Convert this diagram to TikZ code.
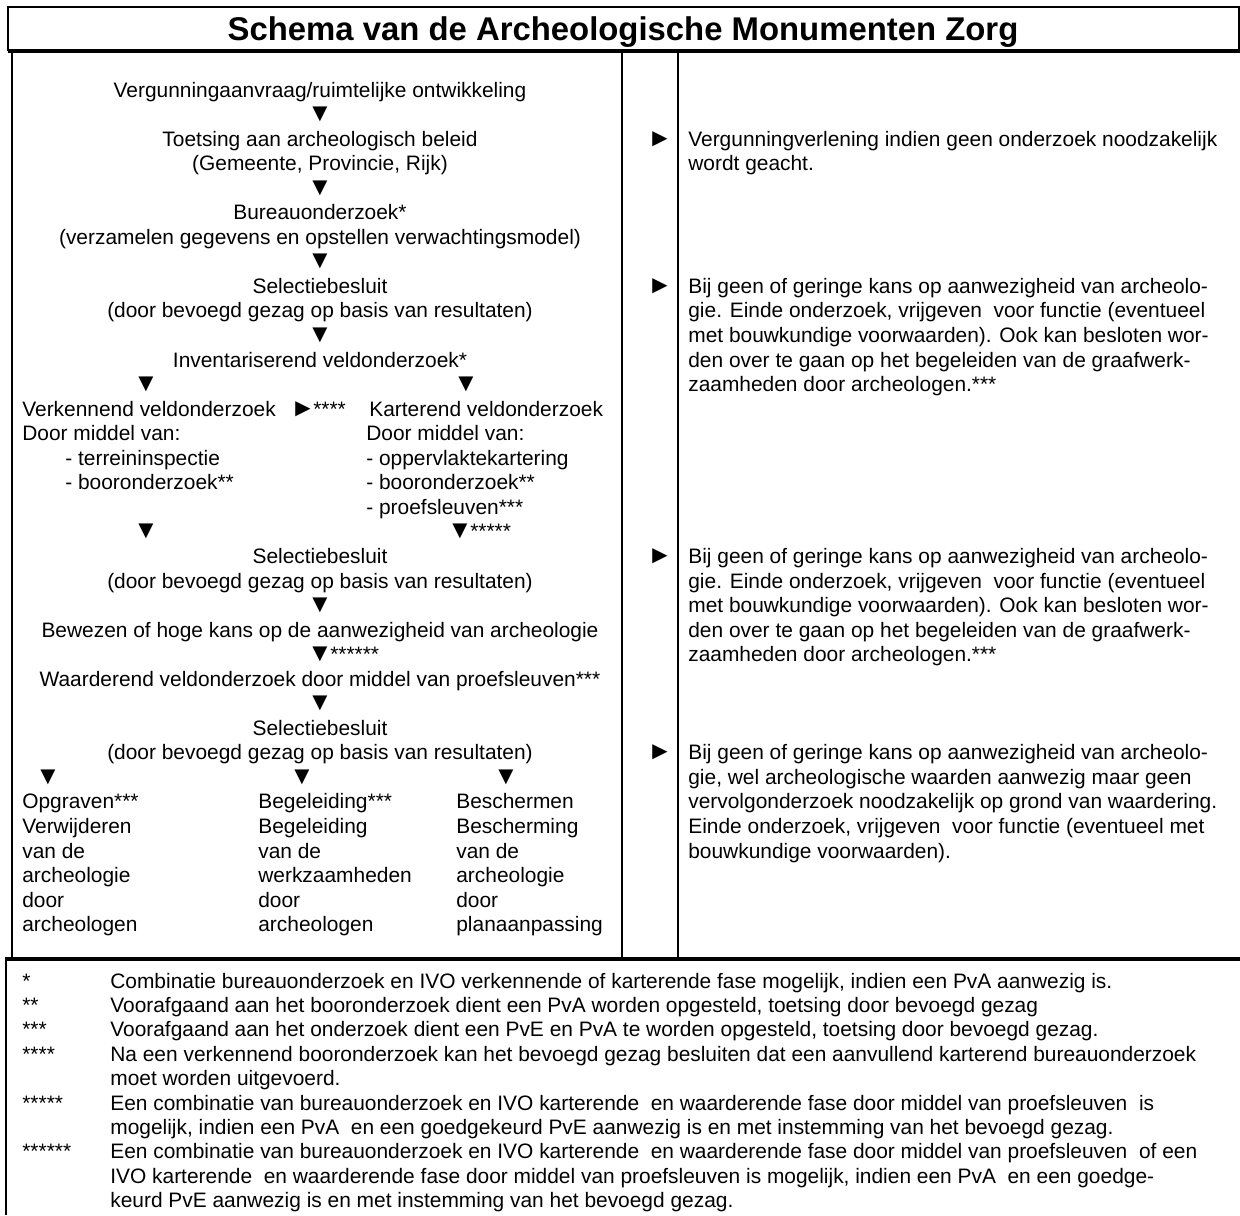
\documentclass[tikz,border=0pt]{standalone}
\usepackage{fontspec}
\setmainfont{Liberation Sans}
\tikzset{
 txt/.style={font=\fontsize{11.9}{14}\selectfont,inner sep=0pt},
 mid/.style={txt,anchor=base},
 lft/.style={txt,anchor=base west},
 pijl/.style={font=\fontsize{14.5}{16}\selectfont,inner sep=0pt,anchor=base},
 ster/.style={lft,xshift=-0.6mm},
 kop/.style={font=\fontsize{18.7}{21}\selectfont\bfseries,inner sep=0pt,anchor=base},
 rule/.style={line width=1.1pt},
 heavy/.style={line width=2.2pt}
}
\newcommand{\ry}[1]{97+24.55*#1}
\newcommand{\fy}[1]{988+24.4*#1}

\begin{document}
\begin{tikzpicture}[x=0.2mm,y=-0.2mm]
\useasboundingbox (0,0) rectangle (1240,1215);
% frames
\draw[rule] (8,51) |- (1239,7) -- (1239,51);
\draw[heavy] (8,51) -- (1240,51);
\foreach \x in {12,622,678} \draw[rule] (\x,51) -- (\x,959);
\draw[heavy] (5,959) -- (1240,959);
\draw[rule] (6,959) -- (6,1215);
\node[kop] (titel) at (623,40) {Schema van de Archeologische Monumenten Zorg};
% left column, centred lines
\node[mid] (m0) at (320,{\ry{0}}) {Vergunningaanvraag/ruimtelijke ontwikkeling};
\foreach \n/\txt in {2/Toetsing aan archeologisch beleid,3/{(Gemeente, Provincie, Rijk)},5/Bureauonderzoek*,6/(verzamelen gegevens en opstellen verwachtingsmodel),8/Selectiebesluit,9/(door bevoegd gezag op basis van resultaten),11/Inventariserend veldonderzoek*,19/Selectiebesluit,20/(door bevoegd gezag op basis van resultaten),22/Bewezen of hoge kans op de aanwezigheid van archeologie,24/Waarderend veldonderzoek door middel van proefsleuven***,26/Selectiebesluit,27/(door bevoegd gezag op basis van resultaten)}
 \node[mid] (m\n) at (320,{\ry{\n}}) {\txt};
% triangles
\foreach \n/\x in {1/320,4/320,7/320,10/320,12/146,12/466,18/146,18/460,21/320,23/320,25/320,28/48,28/302,28/506}
 \node[pijl] (d\n-\x) at (\x,{\ry{\n}}) {▼};
\node[ster] (s18) at (d18-460.base east) {*****};
\node[ster] (s23) at (d23-320.base east) {******};
% split block
\foreach \n/\x/\txt in {13/22/Verkennend veldonderzoek,14/22/Door middel van:,15/65/- terreininspectie,16/65/- booronderzoek**,13/369/Karterend veldonderzoek,14/366/Door middel van:,15/366/- oppervlaktekartering,16/366/- booronderzoek**,17/366/- proefsleuven***}
 \node[lft] (v\n-\x) at (\x,{\ry{\n}}) {\txt};
\node[pijl,anchor=base west] (p13) at (290,{\ry{13}}) {►};
\node[ster] (s13) at (p13.base east) {****};
% three outcomes
\foreach \n/\a/\b/\c in {29/Opgraven***/Begeleiding***/Beschermen,30/Verwijderen/Begeleiding/Bescherming,31/van de/van de/van de,32/archeologie/werkzaamheden/archeologie,33/door/door/door,34/archeologen/archeologen/planaanpassing}{
 \node[lft] (o\n) at (22,{\ry{\n}}) {\a};
 \node[lft] (b\n) at (258,{\ry{\n}}) {\b};
 \node[lft] (c\n) at (456,{\ry{\n}}) {\c};
}
% right column
\foreach \n in {2,8,19,27} \node[pijl] (r\n) at (660,{\ry{\n}}) {►};
\foreach \n/\txt in {2/Vergunningverlening indien geen onderzoek noodzakelijk,3/wordt geacht.,
 8/Bij geen of geringe kans op aanwezigheid van archeolo-,9/{gie. Einde onderzoek, vrijgeven\ \ voor functie (eventueel},10/met bouwkundige voorwaarden). Ook kan besloten wor-,11/den over te gaan op het begeleiden van de graafwerk-,12/zaamheden door archeologen.***,
 19/Bij geen of geringe kans op aanwezigheid van archeolo-,20/{gie. Einde onderzoek, vrijgeven\ \ voor functie (eventueel},21/met bouwkundige voorwaarden). Ook kan besloten wor-,22/den over te gaan op het begeleiden van de graafwerk-,23/zaamheden door archeologen.***,
 27/Bij geen of geringe kans op aanwezigheid van archeolo-,28/{gie, wel archeologische waarden aanwezig maar geen},29/vervolgonderzoek noodzakelijk op grond van waardering.,30/{Einde onderzoek, vrijgeven\ \ voor functie (eventueel met},31/bouwkundige voorwaarden).}
 \node[lft] (t\n) at (688,{\ry{\n}}) {\txt};
% footnotes
\foreach \k/\m in {0/*,1/**,2/***,3/****,5/*****,7/******}
 \node[lft] (n\k) at (22,{\fy{\k}}) {\m};
\foreach \k/\txt in {0/{Combinatie bureauonderzoek en IVO verkennende of karterende fase mogelijk, indien een PvA aanwezig is.},
 1/{Voorafgaand aan het booronderzoek dient een PvA worden opgesteld, toetsing door bevoegd gezag},
 2/{Voorafgaand aan het onderzoek dient een PvE en PvA te worden opgesteld, toetsing door bevoegd gezag.},
 3/Na een verkennend booronderzoek kan het bevoegd gezag besluiten dat een aanvullend karterend bureauonderzoek,
 4/moet worden uitgevoerd.,
 5/Een combinatie van bureauonderzoek en IVO karterende\ \ en waarderende fase door middel van proefsleuven\ \ is,
 6/{mogelijk, indien een PvA\ \ en een goedgekeurd PvE aanwezig is en met instemming van het bevoegd gezag.},
 7/Een combinatie van bureauonderzoek en IVO karterende\ \ en waarderende fase door middel van proefsleuven\ \ of een,
 8/{IVO karterende\ \ en waarderende fase door middel van proefsleuven is mogelijk, indien een PvA\ \ en een goedge-},
 9/keurd PvE aanwezig is en met instemming van het bevoegd gezag.}
 \node[lft] (f\k) at (110,{\fy{\k}}) {\txt};
\end{tikzpicture}
\end{document}
